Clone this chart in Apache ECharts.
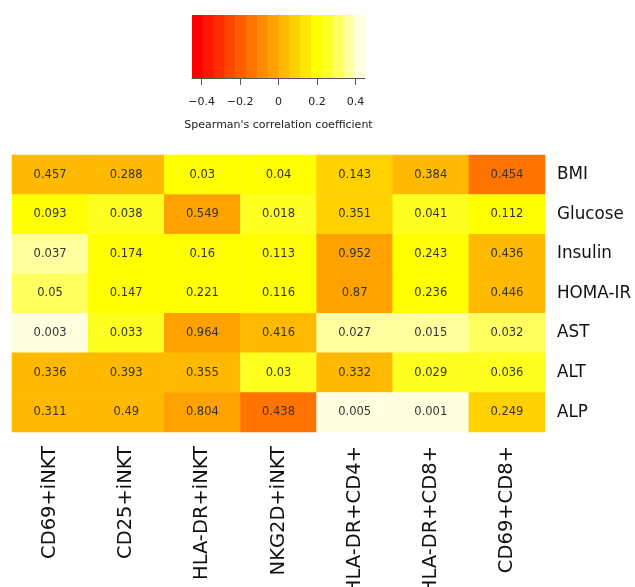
<!DOCTYPE html>
<html><head><meta charset="utf-8">
<script src="https://cdn.jsdelivr.net/npm/echarts@6/dist/echarts.min.js"></script>
<style>html,body{margin:0;padding:0;background:#fff}#c{width:635px;height:587px}</style>
</head><body><div id="c"></div>
<script>
const columns = ['CD69+iNKT','CD25+iNKT','HLA-DR+iNKT','NKG2D+iNKT','HLA-DR+CD4+','HLA-DR+CD8+','CD69+CD8+'];
const rows = ['BMI','Glucose','Insulin','HOMA-IR','AST','ALT','ALP'];
// p-values printed in the cells
const pBMI     = [0.457,0.288,0.03,0.04,0.143,0.384,0.454];
const pGlucose = [0.093,0.038,0.549,0.018,0.351,0.041,0.112];
const pInsulin = [0.037,0.174,0.16,0.113,0.952,0.243,0.436];
const pHOMA    = [0.05,0.147,0.221,0.116,0.87,0.236,0.446];
const pAST     = [0.003,0.033,0.964,0.416,0.027,0.015,0.032];
const pALT     = [0.336,0.393,0.355,0.03,0.332,0.029,0.036];
const pALP     = [0.311,0.49,0.804,0.438,0.005,0.001,0.249];
// Spearman rho (cell colour), estimated from the colours
const rBMI     = [0.03,0.03,0.2,0.2,0.08,0.03,-0.14];
const rGlucose = [0.2,0.25,-0.03,0.25,0.08,0.25,0.2];
const rInsulin = [0.37,0.2,0.2,0.2,-0.03,0.2,0.03];
const rHOMA    = [0.31,0.2,0.2,0.2,-0.03,0.2,0.03];
const rAST     = [0.42,0.25,-0.03,0.03,0.37,0.37,0.31];
const rALT     = [0.03,0.03,0.03,0.25,0.03,0.25,0.25];
const rALP     = [0.03,0.03,-0.03,-0.14,0.42,0.42,0.08];
const legendMin = -0.45, legendMax = 0.45;
const legendTicks = [-0.4,-0.2,0,0.2,0.4];
const palette = ['#FF0000','#FF1700','#FF2E00','#FF4600','#FF5D00','#FF7400','#FF8B00','#FFA200',
                 '#FFB900','#FFD100','#FFE800','#FFFF00','#FFFF20','#FFFF60','#FFFF9F','#FFFFDF'];

const pAll = [pBMI,pGlucose,pInsulin,pHOMA,pAST,pALT,pALP];
const rAll = [rBMI,rGlucose,rInsulin,rHOMA,rAST,rALT,rALP];
const cells = [];
rows.forEach((rn, r) => columns.forEach((cn, c) => cells.push([c, r, rAll[r][c], pAll[r][c]])));
const step = (legendMax - legendMin) / palette.length;
const pieces = palette.map((col, k) => ({gte: legendMin + k*step, lt: legendMin + (k+1)*step + (k === palette.length-1 ? 1 : 0), color: col}));
const bands = palette.map((col, k) => [legendMin + k*step, legendMin + (k+1)*step, k]);
const FONT = 'DejaVu Sans';

const chart = echarts.init(document.getElementById('c'), null, {renderer: 'canvas'});
chart.setOption({
  animation: false,
  backgroundColor: '#ffffff',
  grid: [
    {left: 12, top: 155, width: 533, height: 277, containLabel: false, outerBoundsMode: 'none'},
    {left: 192, top: 15, width: 173, height: 63, containLabel: false, outerBoundsMode: 'none'}
  ],
  xAxis: [
    {gridIndex: 0, type: 'category', data: columns, position: 'bottom',
     axisLine: {show: false}, axisTick: {show: false}, splitLine: {show: false},
     axisLabel: {rotate: 90, margin: 14, fontSize: 19.5, color: '#111', fontFamily: FONT, interval: 0}},
    {gridIndex: 1, type: 'value', min: legendMin, max: legendMax, position: 'bottom',
     axisLine: {show: true, lineStyle: {color: '#555', width: 1}},
     axisTick: {show: true, customValues: legendTicks, length: 7, lineStyle: {color: '#555'}},
     axisLabel: {show: true, customValues: legendTicks, margin: 19, fontSize: 11, color: '#222', fontFamily: FONT,
       formatter: v => (v < 0 ? '\u2212' + Math.abs(v) : String(v))},
     splitLine: {show: false},
     name: "Spearman's correlation coefficient", nameLocation: 'middle', nameGap: 42,
     nameTextStyle: {fontSize: 11, color: '#222', fontFamily: FONT}}
  ],
  yAxis: [
    {gridIndex: 0, type: 'category', data: rows, inverse: true, position: 'right',
     axisLine: {show: false}, axisTick: {show: false}, splitLine: {show: false},
     axisLabel: {margin: 12, fontSize: 16.8, color: '#111', fontFamily: FONT}},
    {gridIndex: 1, type: 'value', min: 0, max: 1, position: 'right',
     axisLine: {show: true, lineStyle: {color: '#555', width: 1}},
     axisTick: {show: false}, axisLabel: {show: false}, splitLine: {show: false}}
  ],
  visualMap: {type: 'piecewise', show: false, dimension: 2, seriesIndex: 0, pieces: pieces},
  series: [
    {type: 'heatmap', xAxisIndex: 0, yAxisIndex: 0, data: cells,
     itemStyle: {borderWidth: 0},
     emphasis: {disabled: true},
     label: {show: true, fontSize: 11.5, color: '#333', fontFamily: FONT, formatter: p => String(p.data[3])}},
    {type: 'custom', xAxisIndex: 1, yAxisIndex: 1, data: bands, silent: true,
     renderItem: (params, api) => {
       const p0 = api.coord([api.value(0), 0]);
       const p1 = api.coord([api.value(1), 1]);
       return {type: 'rect', shape: {x: p0[0], y: p1[1], width: p1[0] - p0[0] + 0.6, height: p0[1] - p1[1]},
               style: {fill: palette[api.value(2)]}};
     }}
  ]
});
</script></body></html>
